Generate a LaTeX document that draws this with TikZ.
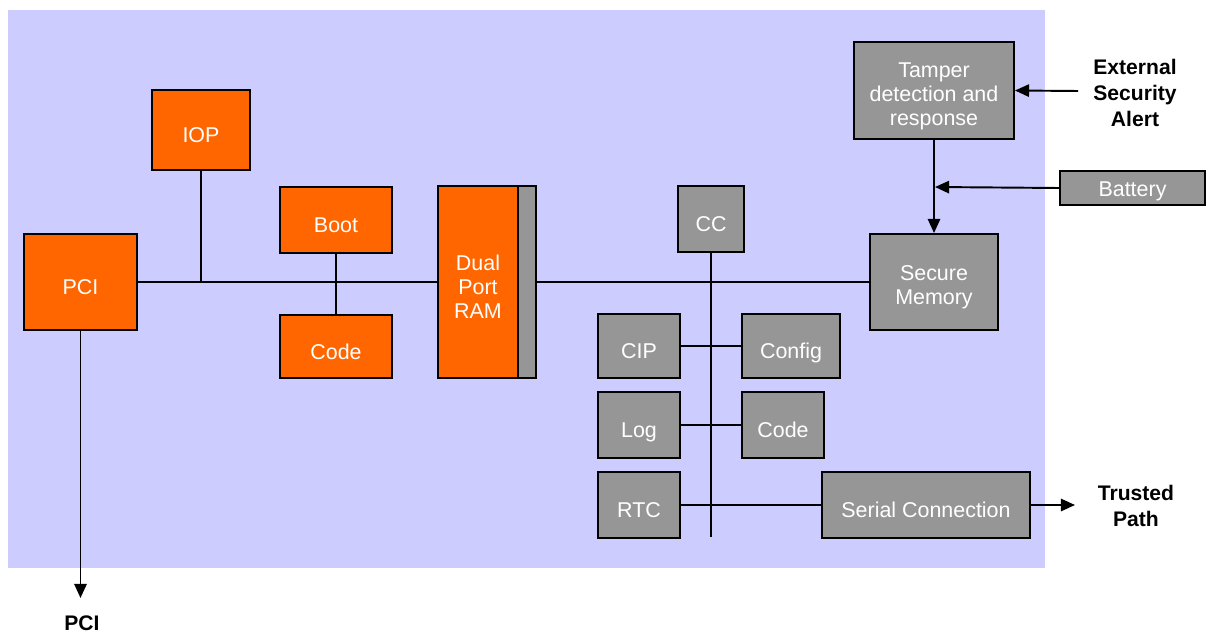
\documentclass[tikz,border=0pt]{standalone}
\usepackage{fontspec}
\setmainfont{Liberation Sans}
\usetikzlibrary{arrows.meta}
\newdimen\px \px=0.02cm
\definecolor{lav}{RGB}{204,204,255}
\definecolor{org}{RGB}{255,102,0}
\definecolor{gry}{RGB}{150,150,150}
% box macro: style, name, x, y, width, height, text style, text
\newcommand\mybox[8]{%
  \node[#1,minimum width=#5\px,minimum height=#6\px] (#2) at (#3,#4) {};
  \node[#7] (#2-t) at ([yshift=-2.85pt]#2.center) {#8};}
\begin{document}
\begin{tikzpicture}[x=0.02cm,y=-0.02cm,
  base/.style={draw=black,line width=1.1pt,inner sep=0pt},
  obox/.style={base,fill=org},
  gbox/.style={base,fill=gry},
  txtm/.style={text=white,align=center,inner sep=0pt,font=\fontsize{12.2}{13.7}\selectfont},
  txt/.style={txtm,text height=8.7pt,text depth=0pt},
  wire/.style={line width=1.1pt},
  arr/.style={wire,-{Triangle[length=8pt,width=7pt]}},
  lbl/.style={font=\bfseries\fontsize{12}{15}\selectfont,align=center,inner sep=0pt}]
\useasboundingbox (0,0) rectangle (1206,635);
\fill[lav] (8,10) rectangle (1045,568);
% orange boxes
\mybox{obox}{pci}{80.5}{282}{113}{96}{txt}{PCI}
\mybox{obox}{iop}{201}{130}{98}{80}{txt}{IOP}
\mybox{obox}{boot}{336}{220}{112}{66}{txt}{Boot}
\mybox{obox}{ocode}{336}{346.5}{112}{63}{txt}{Code}
\mybox{obox}{dpr}{478}{282}{80}{192}{txtm}{Dual\\Port\\RAM}
\node[gbox,minimum width=18\px,minimum height=192\px] (strip) at (527,282) {};
% gray boxes
\mybox{gbox}{cc}{711}{219}{66}{66}{txt}{CC}
\mybox{gbox}{sec}{934}{282}{128}{96}{txtm}{Secure\\Memory}
\node[gbox,minimum width=160\px,minimum height=97\px] (tamp) at (934,90.5) {};
\node[txtm] (tamp-t) at ([yshift=-3.4pt]tamp.center) {Tamper\\detection and\\response};
\node[gbox,minimum width=145\px,minimum height=34\px] (bat) at (1132.5,188) {};
\node[txt] (bat-t) at ([yshift=-0.6pt]bat.center) {Battery};
\mybox{gbox}{cip}{639}{346}{82}{64}{txt}{CIP}
\mybox{gbox}{cfg}{791}{346}{98}{64}{txt}{Config}
\mybox{gbox}{log}{639}{425}{82}{66}{txt}{Log}
\mybox{gbox}{gcode}{783}{425}{82}{66}{txt}{Code}
\mybox{gbox}{rtc}{639}{505}{82}{66}{txt}{RTC}
\mybox{gbox}{ser}{926}{505}{208}{66}{txt}{Serial Connection}
% labels
\node[lbl] (ext) at (1135,93) {External\\Security\\Alert};
\node[lbl] (tp) at (1136,506) {Trusted\\Path};
\node[lbl,text height=8.7pt,text depth=0pt] (pcil) at (82,623) {PCI};
% coordinates
\coordinate (iopj) at (201,282);
\coordinate (ccend) at (711,537);
\coordinate (batj) at (935,187);
\coordinate (extend) at (1078,91);
\coordinate (tpend) at (1075,505);
\coordinate (pciend) at (80.5,598);
% wires
\draw[wire] (pci.east) -- (dpr.west);
\draw[wire] (iop.south) -- (iopj);
\draw[wire] (boot.south) -- (ocode.north);
\draw[wire] (strip.east) -- (sec.west);
\draw[wire] (cc.south) -- (ccend);
\draw[wire] (cip.east) -- (cfg.west);
\draw[wire] (log.east) -- (gcode.west);
\draw[wire] (rtc.east) -- (ser.west);
\draw[arr] (tamp.south) -- (sec.north);
\draw[arr] (bat.west) -- (batj);
\draw[arr] (extend) -- (tamp.east);
\draw[arr] (ser.east) -- (tpend);
\draw[arr] (pci.south) -- (pciend);
\end{tikzpicture}
\end{document}
